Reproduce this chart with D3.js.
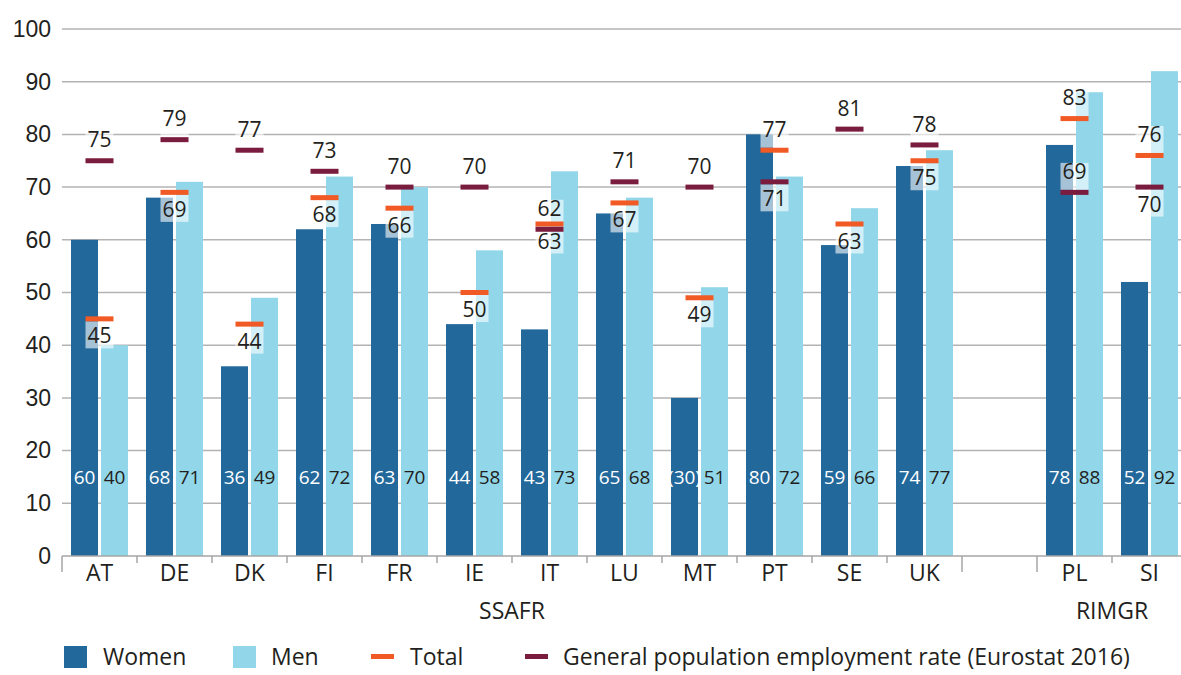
<!DOCTYPE html>
<html>
<head>
<meta charset="utf-8">
<script src="https://cdn.jsdelivr.net/npm/d3@7"></script>
<style>
  html, body { margin: 0; padding: 0; background: #fff; }
  svg { display: block; font-family: "Open Sans", "Noto Sans", sans-serif; }
</style>
</head>
<body>
<svg id="chart" width="1181" height="675"></svg>
<script>
// Employment rates by country (%)
const countries = ["AT", "DE", "DK", "FI", "FR", "IE", "IT", "LU", "MT", "PT", "SE", "UK", "PL", "SI"];
const women     = [60, 68, 36, 62, 63, 44, 43, 65, 30, 80, 59, 74, 78, 52];
const men       = [40, 71, 49, 72, 70, 58, 73, 68, 51, 72, 66, 77, 88, 92];
const total     = [45, 69, 44, 68, 66, 50, 63, 67, 49, 77, 63, 75, 83, 76];
const general   = [75, 79, 77, 73, 70, 70, 62, 71, 70, 71, 81, 78, 69, 70];
// Values shown in brackets (small sample)
const bracketed = ["MT"];
// Which side of its marker each label sits on
const totalLabelSide   = ["below", "below", "below", "below", "below", "below", "below", "below", "below", "above", "below", "below", "above", "above"];
const generalLabelSide = ["above", "above", "above", "above", "above", "above", "above", "above", "above", "below", "above", "above", "above", "below"];
// Survey groups
const groupNames = ["SSAFR", "RIMGR"];
const groupFirst = ["AT", "PL"];
const groupLast  = ["UK", "SI"];
const yTicks = [0, 10, 20, 30, 40, 50, 60, 70, 80, 90, 100];
const seriesNames = ["Women", "Men"];

const colors = {
  Women: "#22689b",
  Men: "#92d6ea",
  Total: "#f15a24",
  General: "#7a1c3e",
  grid: "#b3b3b3",
  text: "#231f20"
};

const svg = d3.select("#chart");
const margin = { left: 62, top: 29, bottom: 556 };
const SPACER = "_gap";

// Slot list: the first group, an empty spacer slot, then the second group
const slots = countries.slice(0, 12).concat([SPACER]).concat(countries.slice(12));

const x = d3.scaleBand().domain(slots).range([margin.left, margin.left + 75 * slots.length]).paddingInner(0).paddingOuter(0);
const y = d3.scaleLinear().domain([0, 100]).range([margin.bottom, margin.top]);
const bw = x.bandwidth();
const xInner = d3.scaleBand().domain(seriesNames).range([bw / 2 - 28.5, bw / 2 + 28.5]).paddingInner(0.1).paddingOuter(0);

// Gridlines
svg.append("g").selectAll("line").data(yTicks.filter(d => d > 0)).join("line")
  .attr("x1", margin.left).attr("x2", 1181)
  .attr("y1", d => y(d)).attr("y2", d => y(d))
  .attr("stroke", colors.grid).attr("stroke-width", 1.5);

// Y axis labels
const yAxis = d3.axisLeft(y).tickValues(yTicks).tickSize(0).tickPadding(11);
const gy = svg.append("g").attr("transform", `translate(${margin.left},0)`).call(yAxis);
gy.select(".domain").remove();
gy.selectAll("text").attr("font-size", 23).attr("fill", colors.text).attr("font-family", null);

// Bars
const rows = countries.map((c, i) => ({ c, i, Women: women[i], Men: men[i] }));
const barG = svg.append("g");
rows.forEach(r => {
  seriesNames.forEach(s => {
    barG.append("rect")
      .attr("x", x(r.c) + xInner(s))
      .attr("width", xInner.bandwidth())
      .attr("y", y(r[s]))
      .attr("height", y(0) - y(r[s]))
      .attr("fill", colors[s]);
    const txt = bracketed.includes(r.c) && s === "Women" ? `(${r[s]})` : `${r[s]}`;
    barG.append("text")
      .attr("x", x(r.c) + xInner(s) + xInner.bandwidth() / 2)
      .attr("y", y(15))
      .attr("dy", "0.36em")
      .attr("text-anchor", "middle")
      .attr("font-size", 19)
      .attr("fill", s === "Women" ? "#ffffff" : colors.text)
      .text(txt);
  });
});

// Bottom axis line and ticks
svg.append("line")
  .attr("x1", margin.left).attr("x2", 1181)
  .attr("y1", y(0)).attr("y2", y(0))
  .attr("stroke", "#a6a6a6").attr("stroke-width", 1.5);

const groupEdges = new Set([x(groupFirst[0]), x(groupLast[0]) + bw, x(groupFirst[1]), x(groupLast[1]) + bw]);
const tickXs = slots.map(s => x(s)).concat([x(slots[slots.length - 1]) + bw]);
svg.append("g").selectAll("line").data(tickXs).join("line")
  .attr("x1", d => d).attr("x2", d => d)
  .attr("y1", y(0)).attr("y2", d => groupEdges.has(d) ? y(0) + 16 : y(0) + 7)
  .attr("stroke", "#a6a6a6").attr("stroke-width", 1.5);

// Country labels
svg.append("g").selectAll("text").data(countries).join("text")
  .attr("x", d => x(d) + bw / 2)
  .attr("y", y(0) + 17)
  .attr("dy", "0.36em")
  .attr("text-anchor", "middle")
  .attr("font-size", 23)
  .attr("fill", colors.text)
  .text(d => d);

// Group labels
svg.append("g").selectAll("text").data(groupNames).join("text")
  .attr("x", (d, i) => (x(groupFirst[i]) + x(groupLast[i]) + bw) / 2)
  .attr("y", y(0) + 55)
  .attr("dy", "0.36em")
  .attr("text-anchor", "middle")
  .attr("font-size", 23)
  .attr("fill", colors.text)
  .text(d => d);

// Labels for Total and General population rate, on translucent boxes
const markerW = 28, markerH = 5;
function drawMarkerLabels(values, sides) {
  const g = svg.append("g");
  countries.forEach((c, i) => {
    const cx = x(c) + bw / 2;
    const my = y(values[i]);
    const above = sides[i] === "above";
    const boxTop = above ? my - markerH / 2 - 27 : my + markerH / 2;
    g.append("rect")
      .attr("x", cx - markerW / 2).attr("y", boxTop)
      .attr("width", markerW).attr("height", 27)
      .attr("fill", "#ffffff").attr("fill-opacity", 0.6);
    g.append("text")
      .attr("x", cx)
      .attr("y", above ? my - 21 : my + 17)
      .attr("dy", "0.36em")
      .attr("text-anchor", "middle")
      .attr("font-size", 21)
      .attr("fill", colors.text)
      .text(values[i]);
  });
}
// Short horizontal markers, drawn above the label boxes
function drawMarkers(values, color) {
  const g = svg.append("g");
  countries.forEach((c, i) => {
    const cx = x(c) + bw / 2;
    const my = y(values[i]);
    g.append("rect")
      .attr("x", cx - markerW / 2).attr("y", my - markerH / 2)
      .attr("width", markerW).attr("height", markerH)
      .attr("fill", color);
  });
}
drawMarkerLabels(total, totalLabelSide);
drawMarkerLabels(general, generalLabelSide);
drawMarkers(total, colors.Total);
drawMarkers(general, colors.General);

// Legend
const legend = svg.append("g");
const legendItems = [
  { name: "Women", type: "box", color: colors.Women, x: 64, tx: 103 },
  { name: "Men", type: "box", color: colors.Men, x: 233, tx: 271 },
  { name: "Total", type: "line", color: colors.Total, x: 371, tx: 410 },
  { name: "General population employment rate (Eurostat 2016)", type: "line", color: colors.General, x: 525, tx: 563 }
];
const ly = 657;
legendItems.forEach(it => {
  if (it.type === "box") {
    legend.append("rect").attr("x", it.x).attr("y", ly - 11).attr("width", 23).attr("height", 22).attr("fill", it.color);
  } else {
    legend.append("rect").attr("x", it.x).attr("y", ly - 3).attr("width", 23).attr("height", 5).attr("fill", it.color);
  }
  legend.append("text")
    .attr("x", it.tx).attr("y", ly)
    .attr("dy", "0.36em")
    .attr("font-size", 23)
    .attr("fill", colors.text)
    .text(it.name);
});
</script>
</body>
</html>
